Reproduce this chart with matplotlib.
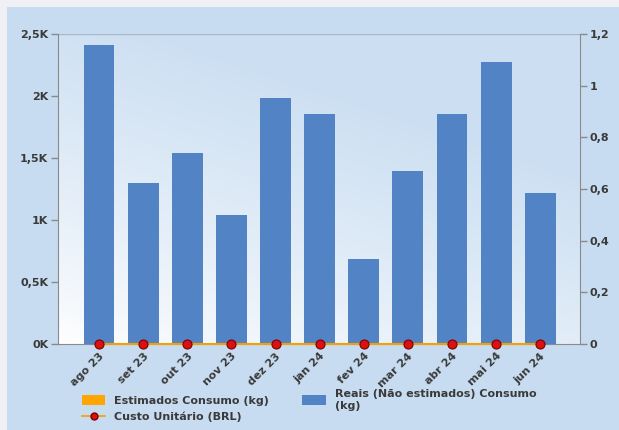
import numpy as np
import matplotlib
matplotlib.use("Agg")
import matplotlib.pyplot as plt
from matplotlib.patches import Rectangle, Patch
from matplotlib.lines import Line2D
from matplotlib.ticker import FixedLocator

months = ["ago 23", "set 23", "out 23", "nov 23", "dez 23", "jan 24",
          "fev 24", "mar 24", "abr 24", "mai 24", "jun 24"]
reais = [2410, 1300, 1540, 1040, 1985, 1855, 685, 1395, 1855, 2275, 1218]
estimados = [0] * 11
custo = [0] * 11
left_ticks = [0, 500, 1000, 1500, 2000, 2500]
left_labels = ["0K", "0,5K", "1K", "1,5K", "2K", "2,5K"]
right_ticks = [0, 0.2, 0.4, 0.6, 0.8, 1.0, 1.2]
right_labels = ["0", "0,2", "0,4", "0,6", "0,8", "1", "1,2"]

W, H = 619, 430
fig = plt.figure(figsize=(W / 100, H / 100), dpi=100)
fig.patch.set_facecolor("#eef0f3")
fig.add_artist(Rectangle((7 / W, 0), 1 - 7 / W, 1 - 7 / H, transform=fig.transFigure,
                         facecolor="#c7dcf0", edgecolor="none", zorder=0))

txt_color = "#3a3a3a"
fs = 8.0
fw = "bold"

ax = fig.add_axes([58 / W, 1 - 344 / H, (580 - 58) / W, (344 - 34) / H])
ax.set_zorder(1)
# gradient background for plot area
ny, nx = 100, 100
yy, xx = np.mgrid[0:1:ny * 1j, 0:1:nx * 1j]
t = np.clip(0.9 * yy + 0.5 * xx, 0, 1) ** 0.8
c0 = np.array([1.0, 1.0, 1.0])
c1 = np.array([0.80, 0.875, 0.95])
img = c0[None, None, :] * (1 - t[..., None]) + c1[None, None, :] * t[..., None]
ax.imshow(img, extent=[0, 1, 0, 1], transform=ax.transAxes, origin="lower",
          aspect="auto", zorder=0)

x = np.arange(len(months))
ax.bar(x, reais, width=0.7, color="#5283c5", zorder=2)
ax.set_xlim(-0.93, 10.9)
ax.set_ylim(0, 2500)
ax.yaxis.set_major_locator(FixedLocator(left_ticks))
ax.set_yticklabels(left_labels)
ax.set_xticks(x)
ax.set_xticklabels(months, rotation=45, ha="right", rotation_mode="anchor")
ax.tick_params(axis="x", length=0, pad=5, labelsize=fs, labelcolor=txt_color)
ax.tick_params(axis="y", length=5, width=1, color="#8a8a8a", labelsize=fs,
               labelcolor=txt_color, pad=2)
for lab in ax.get_xticklabels() + ax.get_yticklabels():
    lab.set_fontweight(fw)
for s in ["top", "right"]:
    ax.spines[s].set_visible(False)
ax.spines["left"].set_color("#8a8a8a")
ax.spines["bottom"].set_color("#8a8a8a")
ax.axhline(2500, color="#a9b9c9", lw=1, zorder=1)

ax2 = ax.twinx()
ax2.set_ylim(0, 1.2)
ax2.yaxis.set_major_locator(FixedLocator(right_ticks))
ax2.set_yticklabels(right_labels)
ax2.tick_params(axis="y", length=5, width=1, color="#8a8a8a", labelsize=fs,
                labelcolor=txt_color, pad=2)
for lab in ax2.get_yticklabels():
    lab.set_fontweight(fw)
for s in ["top", "left", "bottom"]:
    ax2.spines[s].set_visible(False)
ax2.spines["right"].set_color("#8a8a8a")
ax2.plot(x, estimados, color="#f5a000", lw=1.5, zorder=3, clip_on=False)
ax2.plot(x, custo, color="#f5a000", lw=1.2, marker="o", markersize=6.5,
         markerfacecolor="#dd1010", markeredgecolor="#7a0000", markeredgewidth=0.8,
         zorder=4, clip_on=False)

handles = [Patch(facecolor="#ffa500", edgecolor="none"),
           Line2D([0], [0], color="#f5a000", lw=1.2, marker="o", markersize=5,
                  markerfacecolor="#dd1010", markeredgecolor="#7a0000"),
           Patch(facecolor="#5283c5", edgecolor="none")]
labels = ["Estimados Consumo (kg)", "Custo Unitário (BRL)",
          "Reais (Não estimados) Consumo\n(kg)"]
leg = fig.legend(handles, labels, ncol=2, loc="upper left",
                 bbox_to_anchor=(72 / W, 1 - 379 / H), frameon=False,
                 prop={"size": fs, "weight": fw}, labelcolor=txt_color,
                 handlelength=2.1, handleheight=0.9, columnspacing=3.0,
                 labelspacing=0.5, handletextpad=0.8)

fig.savefig("out.png", dpi=100)
